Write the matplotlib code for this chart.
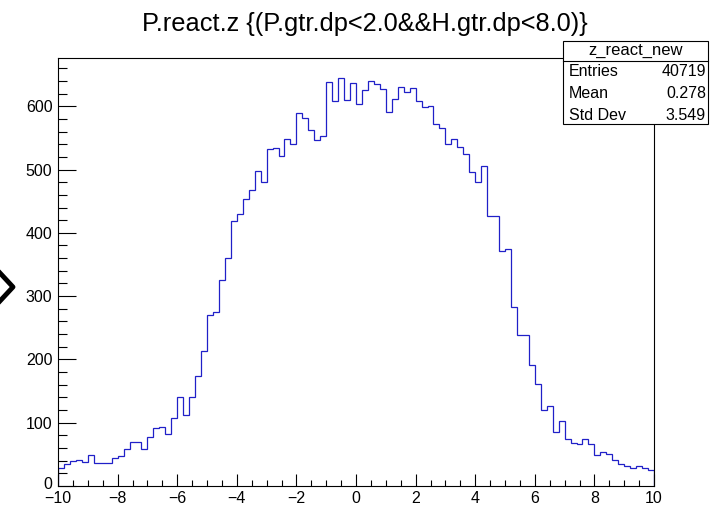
import matplotlib
matplotlib.use("Agg")
import matplotlib.pyplot as plt
import matplotlib.transforms as mtransforms
import numpy as np
from matplotlib.lines import Line2D
from matplotlib.patches import Rectangle

plt.rcParams['font.family'] = ['Liberation Sans', 'DejaVu Sans']

# histogram z_react_new: 100 bins in [-10, 10]
x_lo, x_hi, n_bins = -10, 10, 100
counts = [28, 35, 39, 41, 38, 49, 36, 36, 37, 45,
          48, 58, 69, 70, 58, 78, 91, 93, 82, 108,
          140, 112, 141, 174, 214, 270, 275, 326, 361, 419,
          430, 454, 467, 498, 481, 533, 534, 521, 549, 540,
          590, 581, 563, 546, 553, 638, 608, 644, 610, 637,
          603, 625, 640, 635, 627, 591, 611, 630, 622, 629,
          608, 598, 601, 572, 566, 540, 548, 535, 524, 496,
          481, 506, 427, 427, 372, 374, 283, 238, 238, 191,
          161, 120, 126, 86, 102, 75, 68, 67, 75, 66,
          49, 53, 51, 41, 34, 32, 29, 32, 28, 26]
title = "P.react.z {(P.gtr.dp<2.0&&H.gtr.dp<8.0)}"
stat_name = "z_react_new"
stat_labels = ["Entries", "Mean", "Std Dev"]
stat_values = ["40719", "0.278", "3.549"]

W, H = 710, 508
fig = plt.figure(figsize=(W / 100, H / 100), dpi=100)
ax = fig.add_axes([58 / W, 1 - 486 / H, (654 - 58) / W, (486 - 58) / H])

edges = np.linspace(x_lo, x_hi, n_bins + 1)
ax.stairs(counts, edges, color='#2020c8', linewidth=0.9)

ax.set_xlim(x_lo, x_hi)
ax.set_ylim(0, 1.05 * max(counts))
ax.set_xticks(np.arange(-10, 11, 2))
ax.set_xticks(np.arange(-10, 10.01, 0.5), minor=True)
ax.set_yticks(np.arange(0, 700, 100))
ax.set_yticks(np.arange(0, 680, 20), minor=True)
ax.tick_params(axis='x', which='major', direction='in', length=9, width=0.8, labelsize=11.5, pad=3.5)
ax.tick_params(axis='x', which='minor', direction='in', length=4.5, width=0.8)
ax.tick_params(axis='y', which='major', direction='in', length=13, width=0.8, labelsize=11.5, pad=4)
ax.tick_params(axis='y', which='minor', direction='in', length=6.5, width=0.8)
for s in ax.spines.values():
    s.set_linewidth(0.8)

# nudge the y "0" label up a little so it sits just above the x "-10"
fig.canvas.draw()
zero_lab = ax.get_yticklabels()[0]
zero_lab.set_transform(zero_lab.get_transform() +
                       mtransforms.ScaledTranslation(0, 3 / 100, fig.dpi_scale_trans))

fig.text(365 / W, 1 - 31 / H, title, ha='center', va='baseline', fontsize=18.3)

# stats box
bx0, bx1, by0, by1, bsep = 563, 708, 41, 124, 61
fig.patches.append(Rectangle((bx0 / W, 1 - by1 / H), (bx1 - bx0) / W, (by1 - by0) / H,
                             transform=fig.transFigure, facecolor='white',
                             edgecolor='black', linewidth=0.8, zorder=5))
fig.lines.append(Line2D([bx0 / W, bx1 / W], [1 - bsep / H, 1 - bsep / H],
                        transform=fig.transFigure, color='black', linewidth=0.8, zorder=6))
fig.text((bx0 + bx1) / 2 / W, 1 - 51 / H, stat_name, ha='center', va='center', fontsize=12, zorder=7)
for i, (lab, val) in enumerate(zip(stat_labels, stat_values)):
    yy = 1 - (72 + 22 * i) / H
    fig.text(569 / W, yy, lab, ha='left', va='center', fontsize=11.5, zorder=7)
    fig.text(706 / W, yy, val, ha='right', va='center', fontsize=11.5, zorder=7)

# chevron at the left edge of the window
fig.lines.append(Line2D([0, 13 / W, 0], [1 - 273 / H, 1 - 287 / H, 1 - 301 / H],
                        transform=fig.transFigure, color='black', linewidth=3.5))

fig.savefig("out.png", dpi=100)
